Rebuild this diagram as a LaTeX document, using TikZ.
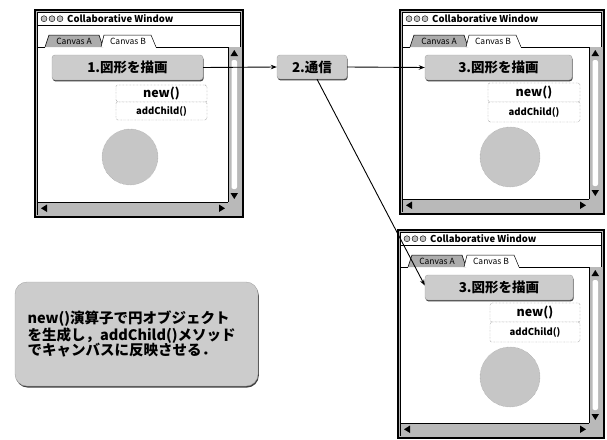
\documentclass[tikz,border=0pt]{standalone}
\usepackage{fontspec}
\setmainfont{Noto Sans CJK JP}
\usetikzlibrary{arrows.meta,shadows}
\newcommand\cwin[4]{%
\begin{scope}[shift={(#1,#2)}]
\fill[gray!55] (0,0) rectangle (#3,#4);
\fill[white] (2.5,2.5) rectangle (#3-2.5,#4-2.5);
\draw[line width=1.1pt] (0,0) rectangle (#3,#4);
\draw[line width=0.6pt] (2.5,2.5) rectangle (#3-2.5,#4-2.5);
\draw[line width=0.6pt] (2.5,15) -- (#3-2.5,15);
\foreach \cx in {9,17,25}{\draw[fill=gray!50,line width=0.4pt] (\cx,8.7) circle (3);}
\node[anchor=west,font=\bfseries\fontsize{9.5}{9.5}\selectfont,inner sep=0pt] at (32,8.7) {Collaborative Window};
\draw[fill=gray!65,line width=0.5pt] (10,37) -- (14,25) -- (64,25) -- (68,37);
\draw[fill=white,line width=0.5pt] (66,37) -- (69,25) -- (116,25) -- (121,37);
\node[font=\fontsize{8.5}{8.5}\selectfont,inner sep=0pt] at (39,31.5) {Canvas A};
\node[font=\fontsize{8.5}{8.5}\selectfont,inner sep=0pt] at (93,31.5) {Canvas B};
\draw[line width=0.7pt] (2.5,37) -- (10,37) (121,37) -- (#3-2.5,37);
\fill[gray!55] (#3-15,37) rectangle (#3-2.5,#4-15);
\fill[white,rounded corners=2pt] (#3-11.5,50) rectangle (#3-6,#4-28);
\draw[line width=0.5pt] (#3-15,37) -- (#3-15,#4-15);
\fill (#3-8.7,40) -- (#3-12.5,46) -- (#3-5,46) -- cycle;
\fill (#3-8.7,#4-18) -- (#3-12.5,#4-24) -- (#3-5,#4-24) -- cycle;
\fill[gray!55] (2.5,#4-15) rectangle (#3-2.5,#4-2.5);
\draw[line width=0.5pt] (2.5,#4-15) -- (#3-15,#4-15);
\fill (6,#4-8.7) -- (12,#4-12.5) -- (12,#4-5) -- cycle;
\fill (#3-18,#4-8.7) -- (#3-24,#4-12.5) -- (#3-24,#4-5) -- cycle;
\end{scope}}
\begin{document}
\begin{tikzpicture}[x=1pt,y=-1pt,
 btn/.style={draw=gray!70, fill=gray!40, rounded corners=3pt, inner sep=0pt,
   minimum height=25pt, font=\bfseries\fontsize{13.5}{13.5}\selectfont,
   drop shadow={shadow xshift=0.6pt,shadow yshift=-1.4pt,fill=black!75,opacity=1}},
 mth/.style={draw=black!70, densely dotted, rounded corners=2pt, fill=white, inner sep=0pt, font=\bfseries},
 blob/.style={draw=gray!80, densely dotted, fill=gray!45},
 arr/.style={-{Stealth[length=6pt,width=4.5pt]}, line width=0.9pt}
]
\useasboundingbox (0,0) rectangle (607,439);
\cwin{35}{10}{208}{207}
\cwin{400}{10}{204}{204}
\cwin{398}{230}{206}{208}
% window 1 content
\node[btn, minimum width=151pt] (b1) at (127.5,67.5) {1.図形を描画};
\node[mth, minimum width=91pt, minimum height=17pt, font=\bfseries\fontsize{12.5}{12.5}\selectfont] (n1) at (161.5,93.5) {new()};
\node[mth, minimum width=91pt, minimum height=18pt, font=\bfseries\fontsize{9.5}{9.5}\selectfont] (a1) at (161.5,111) {addChild()};
\draw[blob] (130,157) circle (28);
% window 2 content
\node[btn, minimum width=147pt] (b2) at (498.5,67.5) {3.図形を描画};
\node[mth, minimum width=92pt, minimum height=19pt, font=\bfseries\fontsize{12.5}{12.5}\selectfont] (n2) at (534,92.5) {new()};
\node[mth, minimum width=92pt, minimum height=20pt, font=\bfseries\fontsize{9.5}{9.5}\selectfont] (a2) at (534,112) {addChild()};
\draw[blob] (510,157) circle (30);
% window 3 content
\node[btn, minimum width=148pt] (b3) at (499,287.5) {3.図形を描画};
\node[mth, minimum width=90pt, minimum height=19pt, font=\bfseries\fontsize{12.5}{12.5}\selectfont] (n3) at (535,312.5) {new()};
\node[mth, minimum width=90pt, minimum height=20pt, font=\bfseries\fontsize{9.5}{9.5}\selectfont] (a3) at (535,332) {addChild()};
\draw[blob] (510,377) circle (30);
% communication
\node[btn, minimum width=70pt, minimum height=24pt] (comm) at (312,67) {2.通信};
\draw[arr] (b1.east) -- (comm.west);
\draw[arr] (comm.east) -- (b2.west);
\draw[arr] ([xshift=5pt]comm.south) -- ([yshift=2pt]b3.west);
% note
\node[draw=gray!70, fill=gray!40, rounded corners=12pt, minimum width=243pt, minimum height=104pt,
  drop shadow={shadow xshift=0.8pt,shadow yshift=-1.6pt,fill=black!75,opacity=1},
  inner sep=0pt] (note) at (136.5,334) {};
\node[align=left, text width=218pt, inner sep=0pt, font=\bfseries\fontsize{14.5}{15.5}\selectfont] (notetext) at (note.center) {new()演算子で円オブジェクト\\を生成し，addChild()メソッド\\でキャンバスに反映させる．};
\end{tikzpicture}
\end{document}
